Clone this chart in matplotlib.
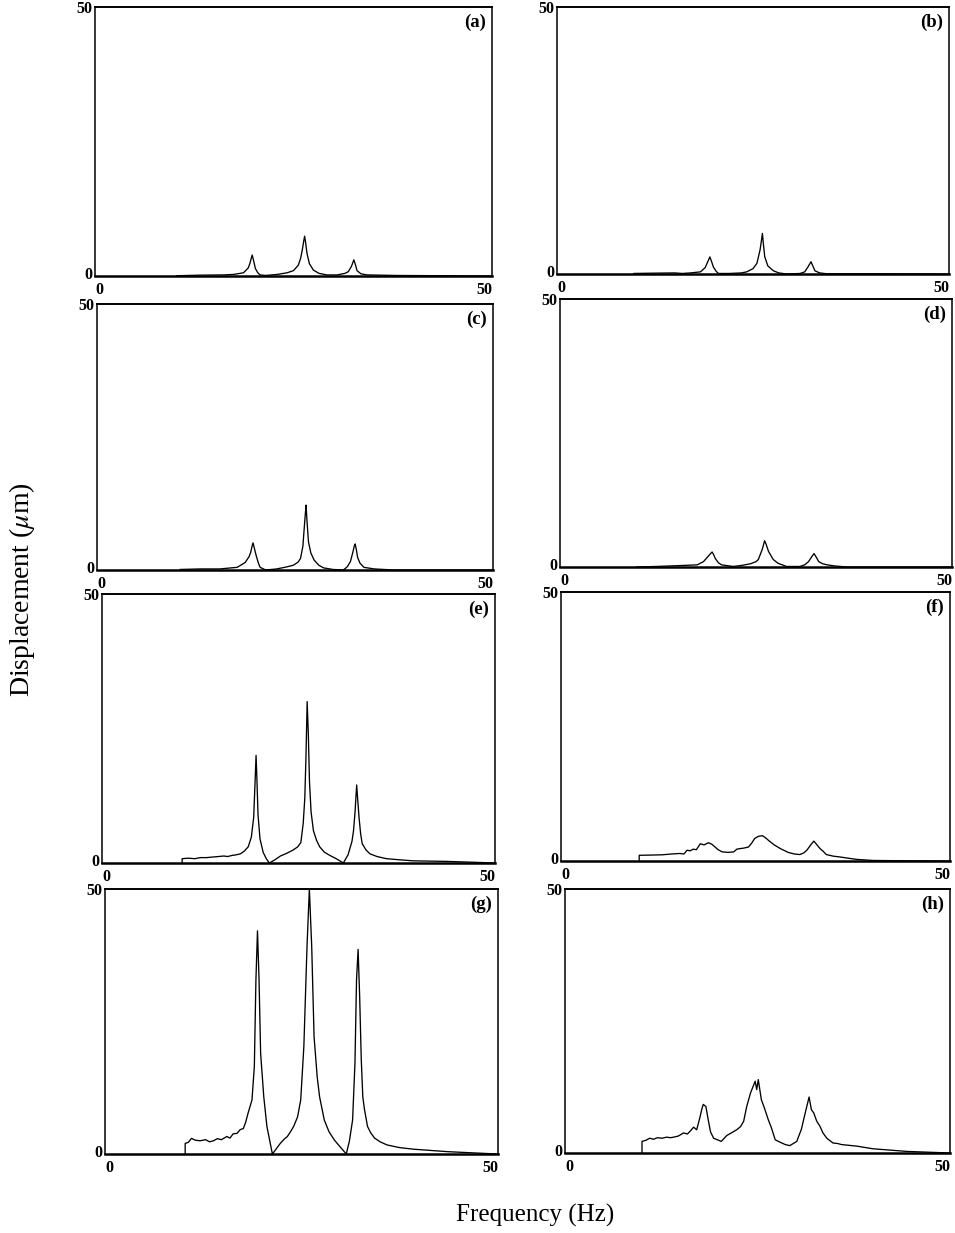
import matplotlib
matplotlib.use("Agg")
import matplotlib.pyplot as plt
from matplotlib.transforms import ScaledTranslation

plt.rcParams['font.family'] = ['Liberation Serif', 'DejaVu Serif']
plt.rcParams['mathtext.fontset'] = 'stix'

################################################################################
# spectra, frequency (Hz) vs displacement (um), read per panel
################################################################################

freq_a = [10.3, 13.0, 16.2, 17.5, 18.7, 19.3, 19.5, 19.7, 19.8, 19.95, 20.2, 20.5, 20.8, 21.5,
          23.0, 24.2, 25.0, 25.6, 25.9, 26.1, 26.3, 26.4, 26.5, 26.7, 27.0, 27.5, 28.2, 29.2,
          30.5, 31.5, 31.9, 32.3, 32.6, 32.8, 33.0, 33.5, 34.3, 38.0, 44.0, 50.0]
disp_a = [0.05, 0.15, 0.2, 0.3, 0.6, 1.5, 2.3, 3.4, 3.9, 3.0, 1.4, 0.6, 0.2, 0.1,
          0.3, 0.6, 1.0, 2.0, 3.3, 4.8, 6.6, 7.4, 6.5, 4.2, 2.3, 1.1, 0.5, 0.2,
          0.2, 0.5, 0.8, 1.8, 3.0, 2.1, 1.0, 0.4, 0.2, 0.1, 0.05, 0.0]

freq_b = [9.8, 12.0, 15.0, 16.0, 17.0, 18.3, 18.9, 19.2, 19.5, 19.7, 19.95, 20.3, 20.6, 22.0,
          23.5, 24.2, 25.0, 25.5, 25.9, 26.1, 26.2, 26.3, 26.5, 26.9, 27.6, 28.3, 29.3, 31.0,
          31.6, 32.0, 32.4, 32.6, 32.9, 33.5, 34.4, 40.0, 50.0]
disp_b = [0.1, 0.15, 0.2, 0.1, 0.2, 0.4, 1.2, 2.2, 3.2, 2.4, 1.3, 0.5, 0.1, 0.1,
          0.2, 0.4, 1.0, 2.0, 4.5, 6.5, 7.6, 6.0, 3.2, 1.5, 0.6, 0.2, 0.0, 0.1,
          0.4, 1.3, 2.3, 1.6, 0.6, 0.2, 0.05, 0.05, 0.0]

freq_c = [10.5, 13.0, 15.5, 17.7, 18.7, 19.2, 19.4, 19.6, 19.7, 19.85, 20.1, 20.4, 20.6, 21.3,
          22.7, 24.0, 24.8, 25.4, 25.7, 26.0, 26.1, 26.3, 26.4, 26.5, 26.7, 27.0, 27.4, 28.0,
          28.6, 29.8, 31.1, 31.6, 32.0, 32.3, 32.5, 32.6, 32.75, 32.9, 33.2, 33.7, 35.0, 37.5, 50.0]
disp_c = [0.1, 0.2, 0.2, 0.5, 1.4, 2.5, 3.3, 4.6, 5.1, 4.2, 2.7, 1.2, 0.5, 0.0,
          0.2, 0.6, 0.9, 1.5, 2.2, 4.5, 6.6, 10.5, 12.2, 9.5, 5.3, 3.2, 1.9, 0.9,
          0.4, 0.1, 0.0, 0.6, 1.6, 3.3, 4.6, 4.9, 3.8, 2.4, 1.3, 0.5, 0.2, 0.0, 0.0]

freq_d = [9.8, 12.3, 15.0, 17.5, 18.3, 18.9, 19.2, 19.4, 19.6, 19.8, 20.2, 20.6, 22.1, 23.2,
          24.3, 25.0, 25.3, 25.8, 26.1, 26.3, 26.6, 27.2, 27.8, 28.9, 30.6, 31.2, 31.7, 32.1,
          32.4, 32.7, 33.0, 33.5, 34.1, 35.0, 36.6, 50.0]
disp_d = [0.0, 0.1, 0.25, 0.4, 1.0, 2.0, 2.5, 2.8, 2.3, 1.6, 0.8, 0.4, 0.1, 0.3,
          0.6, 1.0, 1.4, 3.3, 4.9, 4.2, 2.9, 1.4, 0.7, 0.1, 0.1, 0.4, 1.0, 1.9,
          2.5, 1.8, 1.0, 0.6, 0.4, 0.2, 0.0, 0.0]

freq_e = [10.2, 10.2, 11.0, 11.8, 12.5, 13.3, 14.0, 14.8, 15.5, 16.0, 16.5, 17.0, 17.6, 18.1,
          18.6, 19.0, 19.3, 19.5, 19.6, 19.7, 19.85, 20.1, 20.5, 20.9, 21.3, 22.0, 22.7, 23.5,
          24.3, 24.9, 25.3, 25.6, 25.8, 25.95, 26.1, 26.25, 26.4, 26.6, 26.9, 27.3, 27.7, 28.3,
          29.0, 29.8, 30.7, 31.3, 31.8, 32.0, 32.2, 32.4, 32.55, 32.7, 32.9, 33.1, 33.6, 34.1,
          35.0, 36.2, 37.8, 39.6, 43.8, 47.0, 50.0]
disp_e = [0.0, 0.8, 0.9, 0.8, 1.0, 1.0, 1.1, 1.2, 1.3, 1.2, 1.4, 1.5, 1.7, 2.2,
          3.0, 4.8, 8.5, 16.0, 20.0, 16.0, 9.0, 4.5, 2.0, 0.8, 0.0, 0.6, 1.3, 1.8,
          2.4, 3.0, 3.8, 7.4, 12.0, 19.7, 30.0, 24.0, 15.0, 9.5, 6.0, 4.2, 3.0, 2.0,
          1.4, 0.8, 0.0, 1.5, 4.0, 6.0, 9.6, 14.5, 11.5, 8.5, 5.5, 3.6, 2.4, 1.7,
          1.2, 0.8, 0.6, 0.4, 0.3, 0.15, 0.0]

freq_f = [10.05, 10.05, 11.5, 13.0, 14.2, 15.3, 15.8, 16.2, 16.6, 17.0, 17.4, 17.9, 18.4, 18.95,
          19.4, 19.8, 20.2, 20.7, 21.5, 22.2, 22.6, 23.0, 23.5, 24.1, 24.5, 24.9, 25.4, 25.9,
          26.3, 26.7, 27.4, 28.2, 29.2, 30.0, 30.7, 31.2, 31.6, 32.1, 32.5, 32.9, 33.3, 33.7,
          34.1, 35.0, 35.9, 37.0, 38.0, 40.1, 44.0, 50.0]
disp_f = [0.0, 1.06, 1.1, 1.15, 1.3, 1.4, 1.3, 2.0, 1.9, 2.2, 2.1, 3.2, 3.0, 3.4,
          3.1, 2.6, 2.1, 1.7, 1.6, 1.7, 2.2, 2.3, 2.4, 2.6, 3.3, 4.2, 4.6, 4.7,
          4.3, 3.8, 3.0, 2.3, 1.6, 1.3, 1.2, 1.5, 2.0, 3.0, 3.7, 3.0, 2.3, 1.8,
          1.2, 0.9, 0.74, 0.5, 0.3, 0.1, 0.05, 0.0]

freq_g = [10.2, 10.2, 10.6, 11.0, 11.5, 12.1, 12.8, 13.3, 13.8, 14.3, 14.8, 15.5, 15.9, 16.3,
          16.8, 17.2, 17.6, 17.9, 18.2, 18.7, 19.0, 19.2, 19.4, 19.6, 19.8, 20.2, 20.6, 21.0,
          21.3, 21.8, 22.3, 22.8, 23.2, 23.6, 24.0, 24.5, 24.9, 25.3, 25.7, 26.0, 26.3, 26.6,
          27.0, 27.3, 27.9, 28.5, 29.2, 30.0, 30.7, 31.1, 31.5, 31.8, 32.0, 32.2, 32.4, 32.6,
          32.8, 33.0, 33.1, 33.4, 33.8, 34.3, 35.0, 35.9, 37.5, 39.3, 43.6, 47.0, 49.9]
disp_g = [0.0, 2.0, 2.2, 2.95, 2.6, 2.5, 2.7, 2.3, 2.5, 2.9, 2.7, 3.3, 3.0, 3.8,
          3.9, 4.6, 4.8, 6.0, 7.7, 10.2, 16.5, 32.8, 42.1, 32.8, 19.0, 10.8, 5.2, 2.2,
          0.0, 1.0, 2.0, 2.8, 3.3, 4.2, 5.2, 7.0, 10.2, 20.3, 39.1, 50.0, 39.1, 22.1,
          14.5, 10.8, 6.4, 4.2, 2.6, 1.2, 0.0, 2.5, 6.4, 17.1, 32.8, 38.6, 29.7, 18.0,
          10.8, 8.5, 7.7, 5.2, 4.0, 3.0, 2.3, 1.7, 1.2, 0.9, 0.44, 0.2, 0.0]

freq_h = [10.0, 10.0, 10.5, 11.0, 11.5, 12.0, 12.6, 13.2, 13.7, 14.1, 14.7, 15.4, 15.9, 16.3,
          16.7, 17.1, 17.5, 17.8, 17.96, 18.3, 18.6, 18.9, 19.3, 19.8, 20.3, 21.0, 21.6, 22.3,
          22.8, 23.2, 23.6, 24.1, 24.4, 24.7, 24.9, 25.1, 25.3, 25.5, 25.9, 26.4, 26.8, 27.3,
          28.0, 28.6, 29.2, 30.1, 30.7, 31.2, 31.7, 32.0, 32.3, 32.7, 33.1, 33.5, 34.0, 34.8,
          35.4, 35.9, 37.9, 40.0, 44.4, 50.0]
disp_h = [0.0, 2.2, 2.4, 2.8, 2.6, 2.9, 2.8, 3.0, 2.9, 3.0, 3.2, 3.8, 3.6, 4.2,
          4.9, 4.4, 6.6, 8.5, 9.2, 8.8, 6.3, 4.0, 2.8, 2.5, 2.2, 3.3, 3.8, 4.4,
          5.0, 6.0, 8.8, 11.4, 12.5, 13.6, 12.0, 13.9, 12.0, 10.1, 8.5, 6.3, 4.8, 2.5,
          2.0, 1.6, 1.4, 2.2, 4.5, 7.6, 10.6, 8.2, 7.6, 6.0, 5.1, 3.8, 2.8, 1.9,
          1.8, 1.6, 1.3, 0.8, 0.3, 0.0]

panel_labels = ["(a)", "(b)", "(c)", "(d)", "(e)", "(f)", "(g)", "(h)"]
series = [(freq_a, disp_a), (freq_b, disp_b), (freq_c, disp_c), (freq_d, disp_d),
          (freq_e, disp_e), (freq_f, disp_f), (freq_g, disp_g), (freq_h, disp_h)]

################################################################################
# layout (pixel boxes: left, right, top, bottom)
################################################################################

W, H = 955, 1233
boxes = [
    (95, 492, 7, 276), (557, 949, 7, 274),
    (97, 493, 304, 570), (560, 952, 299, 567),
    (102, 495, 594, 863), (561, 950, 592, 861),
    (105, 498, 889, 1154), (565, 950, 889, 1153),
]

fig = plt.figure(figsize=(W / 100, H / 100), dpi=100)

for (l, r, t, b), label, (fx, fy) in zip(boxes, panel_labels, series):
    ax = fig.add_axes([l / W, 1 - b / H, (r - l) / W, (b - t) / H])
    ax.plot(fx, fy, color='black', lw=0.95, clip_on=False)
    ax.set_xlim(0, 50)
    ax.set_ylim(0, 50)
    for s in ax.spines.values():
        s.set_linewidth(1.1)
    ax.spines['bottom'].set_linewidth(1.8)
    ax.spines['top'].set_linewidth(1.4)

    ax.set_xticks([0, 50])
    ax.set_xticklabels(["0", "50"], fontsize=11.5, fontweight='bold')
    ax.set_yticks([0, 50])
    ax.set_yticklabels(["0", "50"], fontsize=11.5, fontweight='bold')
    ax.tick_params(axis='x', length=0, pad=4)
    ax.tick_params(axis='y', length=0, pad=2)
    xl = ax.get_xticklabels()
    xl[0].set_ha('left')
    xl[1].set_ha('right')
    # lift the "0" a touch so it sits just above the baseline
    yl = ax.get_yticklabels()
    yl[0].set_transform(yl[0].get_transform() + ScaledTranslation(0, 3 / 100, fig.dpi_scale_trans))

    ax.text(0.985, 0.975, label, transform=ax.transAxes, ha='right', va='top',
            fontsize=13.5, fontweight='bold')

fig.text(22 / W, 1 - 590 / H, r"Displacement ($\mu$m)", rotation=90,
         ha='center', va='center', fontsize=20)
fig.text(535 / W, 1 - 1215 / H, "Frequency (Hz)", ha='center', va='center', fontsize=18)

fig.savefig("out.png", dpi=100)
